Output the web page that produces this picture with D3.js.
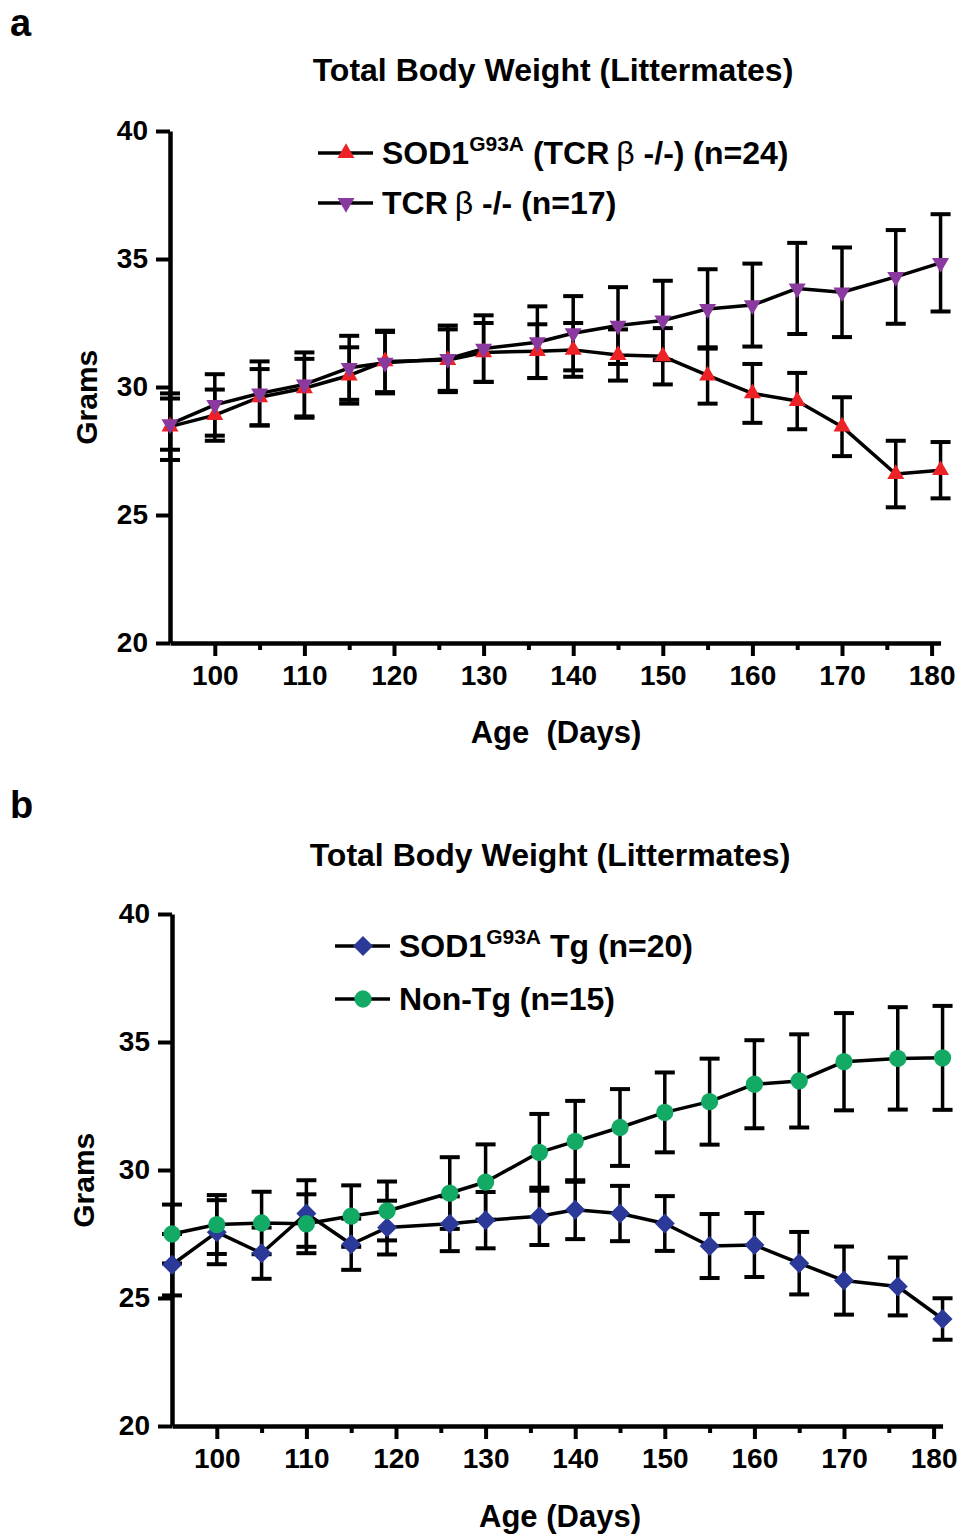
<!DOCTYPE html>
<html>
<head>
<meta charset="utf-8">
<script src="https://cdn.jsdelivr.net/npm/d3@7"></script>
<style>
  body { margin: 0; background: #fff; }
  text { font-family: "Liberation Sans", Arial, sans-serif; font-weight: bold; fill: #000; }
</style>
</head>
<body>
<div id="chart"></div>
<script>
const W = 959, H = 1535;

const black = "#000000";
const red = "#ec2227";
const purple = "#8a3a9e";
const blue = "#2b3a98";
const green = "#13aa66";

// ages (days) shared by both panels
const days = [95, 100, 105, 110, 115, 119, 126, 130, 136, 140, 145, 150, 155, 160, 165, 170, 176, 181];

// panel a
const sodTcrMean = [28.45, 28.9, 29.6, 29.95, 30.45, 31.0, 31.05, 31.35, 31.4, 31.45, 31.25, 31.2, 30.45, 29.75, 29.45, 28.45, 26.6, 26.75];
const sodTcrSem  = [1.3, 1.0, 1.1, 1.15, 1.1, 1.2, 1.2, 1.15, 1.05, 1.05, 1.0, 1.1, 1.1, 1.15, 1.1, 1.15, 1.3, 1.1];
const tcrMean    = [28.55, 29.3, 29.75, 30.1, 30.75, 30.95, 31.1, 31.5, 31.75, 32.1, 32.4, 32.6, 33.05, 33.2, 33.85, 33.7, 34.3, 34.85];
const tcrSem     = [1.0, 1.2, 1.25, 1.25, 1.25, 1.2, 1.3, 1.3, 1.4, 1.45, 1.5, 1.55, 1.55, 1.62, 1.78, 1.75, 1.83, 1.9];

// panel b
const sodTgMean  = [26.3, 27.57, 26.75, 28.3, 27.1, 27.75, 27.9, 28.04, 28.19, 28.45, 28.3, 27.91, 27.03, 27.07, 26.36, 25.68, 25.45, 24.18];
const sodTgSem   = [1.2, 1.25, 1.0, 1.3, 1.0, 1.05, 1.07, 1.1, 1.12, 1.15, 1.08, 1.07, 1.25, 1.25, 1.22, 1.33, 1.13, 0.81];
const nonTgMean  = [27.5, 27.87, 27.93, 27.9, 28.2, 28.4, 29.1, 29.53, 30.69, 31.12, 31.66, 32.25, 32.67, 33.35, 33.48, 34.23, 34.36, 34.38];
const nonTgSem   = [1.15, 1.15, 1.22, 1.15, 1.2, 1.15, 1.4, 1.47, 1.5, 1.58, 1.5, 1.56, 1.68, 1.72, 1.82, 1.9, 2.0, 2.03];

const yTicks = [20, 25, 30, 35, 40];
const xMajor = [100, 110, 120, 130, 140, 150, 160, 170, 180];
const xMinor = [105, 115, 125, 135, 145, 155, 165, 175];

const svg = d3.select("#chart").append("svg")
  .attr("width", W)
  .attr("height", H);

svg.append("rect").attr("width", W).attr("height", H).attr("fill", "#fff");

const symbols = {
  up: { type: d3.symbolTriangle, size: 125, rotate: 0 },
  down: { type: d3.symbolTriangle, size: 125, rotate: 180 },
  diamond: { type: d3.symbolSquare, size: 200, rotate: 45 },
  circle: { type: d3.symbolCircle, size: 235, rotate: 0 }
};

function marker(g, shape, color, x, y) {
  const s = symbols[shape];
  g.append("path")
    .attr("d", d3.symbol().type(s.type).size(s.size)())
    .attr("transform", `translate(${x},${y}) rotate(${s.rotate})`)
    .attr("fill", color);
}

function drawPanel(p) {
  const g = svg.append("g");

  const x = d3.scaleLinear().domain([95, 181]).range([p.left, p.left + 86 * 8.96]);
  const y = d3.scaleLinear().domain([20, 40]).range([p.bottom, p.bottom - 512]);

  // panel letter + title
  g.append("text").attr("x", 10).attr("y", p.letterY).attr("font-size", 38).text(p.letter);
  g.append("text").attr("x", p.titleX).attr("y", p.titleY)
    .attr("text-anchor", "middle").attr("font-size", 32)
    .text("Total Body Weight (Littermates)");

  // axes
  g.append("g")
    .attr("transform", `translate(${p.left},0)`)
    .call(d3.axisLeft(y).tickValues(yTicks).tickSize(14).tickSizeOuter(0).tickPadding(8));

  g.append("g")
    .attr("transform", `translate(0,${p.bottom})`)
    .call(d3.axisBottom(x).tickValues(xMajor).tickSize(13).tickSizeOuter(0).tickPadding(9));

  g.append("g")
    .attr("transform", `translate(0,${p.bottom})`)
    .call(d3.axisBottom(x).tickValues(xMinor).tickSize(7).tickSizeOuter(0).tickFormat(""))
    .call(a => a.select(".domain").remove());

  g.selectAll(".domain").attr("stroke", black).attr("stroke-width", 4.5);
  g.selectAll(".tick line").attr("stroke", black).attr("stroke-width", 4);
  g.selectAll(".tick text")
    .attr("font-size", 28)
    .attr("font-family", "Liberation Sans, Arial, sans-serif")
    .attr("font-weight", "bold")
    .attr("fill", black);

  // axis titles
  g.append("text")
    .attr("transform", `translate(${p.gramsX},${y(29.6)}) rotate(-90)`)
    .attr("text-anchor", "middle").attr("font-size", 30)
    .text("Grams");
  g.append("text")
    .attr("x", p.xLabelX).attr("y", p.xLabelY)
    .attr("text-anchor", "middle").attr("font-size", 31)
    .style("white-space", "pre")
    .text(p.xLabel);

  // error bars first
  const cap = 10;
  p.series.forEach(s => {
    days.forEach((d, i) => {
      const cx = x(d), hi = y(s.mean[i] + s.sem[i]), lo = y(s.mean[i] - s.sem[i]);
      g.append("line").attr("x1", cx).attr("x2", cx).attr("y1", hi).attr("y2", lo)
        .attr("stroke", black).attr("stroke-width", 3.5);
      [hi, lo].forEach(yy => {
        g.append("line").attr("x1", cx - cap).attr("x2", cx + cap).attr("y1", yy).attr("y2", yy)
          .attr("stroke", black).attr("stroke-width", 4);
      });
    });
  });

  const line = d3.line().x((d, i) => x(days[i])).y(d => y(d));
  p.series.forEach(s => {
    g.append("path").datum(s.mean)
      .attr("d", line)
      .attr("fill", "none")
      .attr("stroke", black)
      .attr("stroke-width", 3.5)
      .attr("stroke-linejoin", "round");
  });
  p.series.forEach(s => {
    s.mean.forEach((v, i) => marker(g, s.shape, s.color, x(days[i]), y(v)));
  });

  // legend, rows in the order of the original key
  p.series.forEach(s => {
    const ly = p.legendY[s.row];
    g.append("line").attr("x1", p.legendX).attr("x2", p.legendX + 55)
      .attr("y1", ly).attr("y2", ly).attr("stroke", black).attr("stroke-width", 3.5);
    marker(g, s.shape, s.color, p.legendX + 28, ly);
    const t = g.append("text").attr("x", p.legendX + 64).attr("y", ly + 11).attr("font-size", 32);
    s.label.forEach(part => {
      const span = t.append("tspan").text(part.t);
      if (part.sup) span.attr("font-size", 21).attr("dy", -13);
      if (part.down) span.attr("dy", 13);
      if (part.normal) span.attr("font-weight", "normal").attr("dx", 7);
    });
  });
}

drawPanel({
  letter: "a", letterY: 36,
  left: 170, bottom: 643,
  titleX: 553, titleY: 81,
  gramsX: 97, xLabelX: 556, xLabelY: 743, xLabel: "Age  (Days)",
  legendX: 318, legendY: [153, 203],
  series: [
    { mean: sodTcrMean, sem: sodTcrSem, shape: "up", color: red, row: 0,
      label: [{ t: "SOD1" }, { t: "G93A", sup: true }, { t: " (TCR", down: true }, { t: "β", normal: true }, { t: " -/-) (n=24)" }] },
    { mean: tcrMean, sem: tcrSem, shape: "down", color: purple, row: 1,
      label: [{ t: "TCR" }, { t: "β", normal: true }, { t: " -/- (n=17)" }] }
  ]
});

drawPanel({
  letter: "b", letterY: 818,
  left: 172, bottom: 1426,
  titleX: 550, titleY: 866,
  gramsX: 94, xLabelX: 560, xLabelY: 1527, xLabel: "Age (Days)",
  legendX: 335, legendY: [946, 999],
  series: [
    { mean: sodTgMean, sem: sodTgSem, shape: "diamond", color: blue, row: 0,
      label: [{ t: "SOD1" }, { t: "G93A", sup: true }, { t: " Tg (n=20)", down: true }] },
    { mean: nonTgMean, sem: nonTgSem, shape: "circle", color: green, row: 1,
      label: [{ t: "Non-Tg (n=15)" }] }
  ]
});
</script>
</body>
</html>
